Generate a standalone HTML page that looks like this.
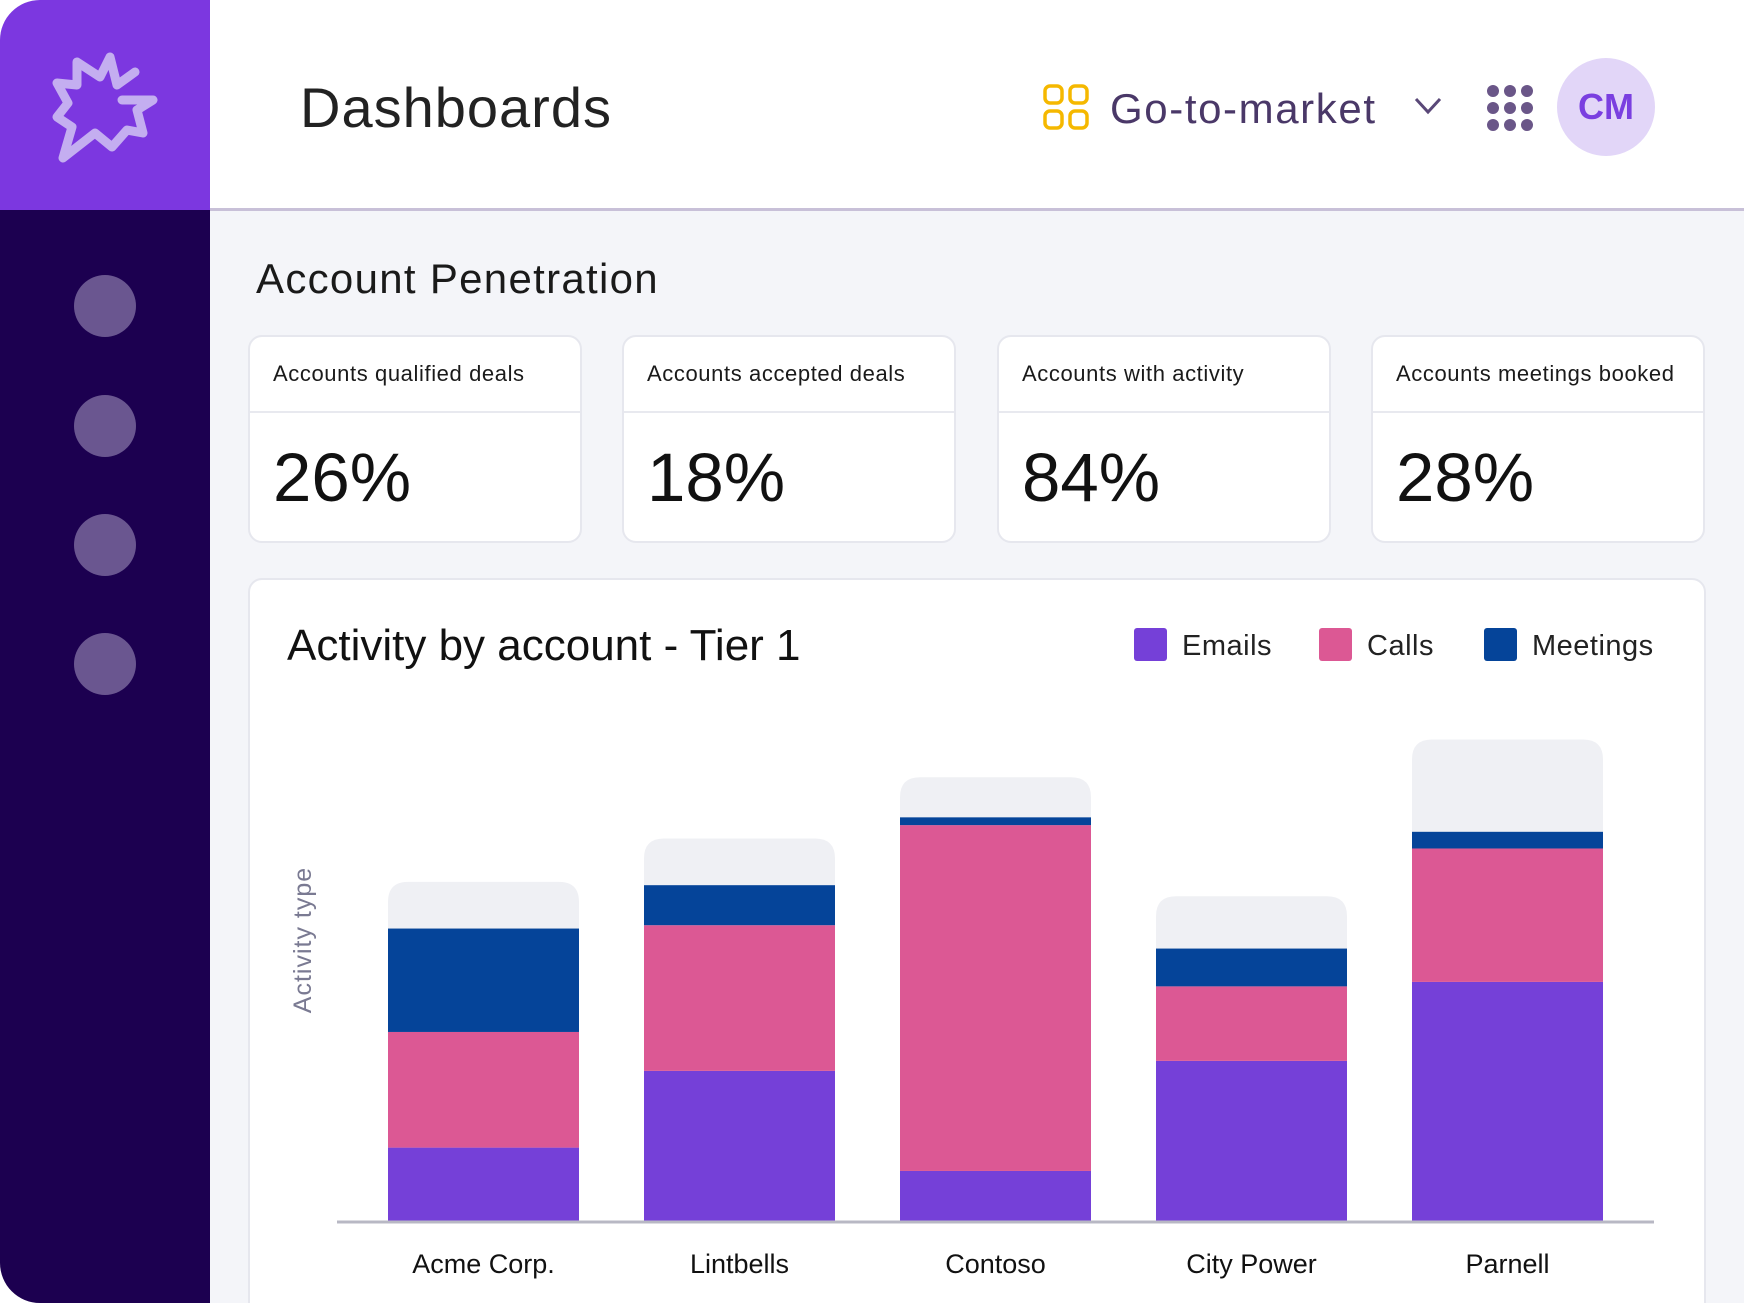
<!DOCTYPE html>
<html><head><meta charset="utf-8">
<style>
html,body{margin:0;padding:0;background:#fff;}
body{width:1744px;height:1303px;position:relative;overflow:hidden;font-family:"Liberation Sans",sans-serif;}
#frame{position:absolute;left:0;top:0;width:1744px;height:1303px;border-radius:40px 0 0 40px;overflow:hidden;background:#f4f5f9;}
#side-top{position:absolute;left:0;top:0;width:210px;height:210px;background:#7c37e0;}
#side{position:absolute;left:0;top:210px;width:210px;height:1093px;background:#1c0050;}
.dot{position:absolute;left:74px;width:62px;height:62px;border-radius:50%;background:#6a5690;}
#header{position:absolute;left:210px;top:0;width:1534px;height:208px;background:#fff;border-bottom:3px solid #c8c0d8;}
.card{position:absolute;top:335px;width:334px;height:208px;background:#fff;border:2px solid #e6e7ee;border-radius:14px;box-sizing:border-box;}
.card .lbl{height:74px;border-bottom:2px solid #e8e9ef;font-size:22px;letter-spacing:0.6px;color:#1a1a1a;padding-left:23px;line-height:74px;}
.card .val{font-size:69px;color:#111;padding-left:23px;line-height:130px;}
#chart-card{position:absolute;left:248px;top:578px;width:1458px;height:760px;background:#fff;border:2px solid #e6e7ee;border-radius:14px;box-sizing:border-box;}
</style></head><body>
<div id="frame">
 <div id="side-top">
  <svg width="210" height="210"><polyline points="135,72 117,85 110,57 100,77 77,62 77,85 57,83 68,103 57,117 72,127 63,158 95,133 112,147 127,130 143,133 137,110 153,100 122,100" fill="none" stroke="#c4aef0" stroke-width="9" stroke-linejoin="round" stroke-linecap="round"/></svg>
 </div>
 <div id="side"></div>
 <div class="dot" style="top:275px"></div>
 <div class="dot" style="top:395px"></div>
 <div class="dot" style="top:514px"></div>
 <div class="dot" style="top:633px"></div>
 <div id="header">
  <div style="position:absolute;left:90px;top:74px;font-size:56px;letter-spacing:1px;line-height:68px;color:#222;">Dashboards</div>
  <svg style="position:absolute;left:833px;top:84px" width="48" height="48">
   <rect x="2" y="2" width="17" height="17" rx="5" fill="none" stroke="#f5b800" stroke-width="3.5"/><rect x="27" y="2" width="17" height="17" rx="5" fill="none" stroke="#f5b800" stroke-width="3.5"/>
   <rect x="2" y="27" width="17" height="17" rx="5" fill="none" stroke="#f5b800" stroke-width="3.5"/><rect x="27" y="27" width="17" height="17" rx="5" fill="none" stroke="#f5b800" stroke-width="3.5"/></svg>
  <div style="position:absolute;left:900px;top:84px;font-size:42px;letter-spacing:1.6px;line-height:50px;color:#4a3868;">Go-to-market</div>
  <svg style="position:absolute;left:1203px;top:96px" width="30" height="20"><polyline points="3,3 15,16 27,3" fill="none" stroke="#5a4878" stroke-width="3"/></svg>
  <svg style="position:absolute;left:1276px;top:84px" width="48" height="48">
   <g fill="#6a5688"><circle cx="7" cy="7" r="6"/><circle cx="24" cy="7" r="6"/><circle cx="41" cy="7" r="6"/><circle cx="7" cy="24" r="6"/><circle cx="24" cy="24" r="6"/><circle cx="41" cy="24" r="6"/><circle cx="7" cy="41" r="6"/><circle cx="24" cy="41" r="6"/><circle cx="41" cy="41" r="6"/></g></svg>
  <div style="position:absolute;left:1347px;top:58px;width:98px;height:98px;border-radius:50%;background:#e2d6f8;color:#7a3fe0;font-size:36px;font-weight:bold;text-align:center;line-height:98px;">CM</div>
 </div>
 <div style="position:absolute;left:256px;top:254px;font-size:42px;letter-spacing:1.3px;line-height:50px;color:#1a1a1a;">Account Penetration</div>
 <div class="card" style="left:248px"><div class="lbl">Accounts qualified deals</div><div class="val">26%</div></div>
 <div class="card" style="left:622px"><div class="lbl">Accounts accepted deals</div><div class="val">18%</div></div>
 <div class="card" style="left:997px"><div class="lbl">Accounts with activity</div><div class="val">84%</div></div>
 <div class="card" style="left:1371px"><div class="lbl">Accounts meetings booked</div><div class="val">28%</div></div>
 <div id="chart-card"></div>
 <svg id="chart" style="position:absolute;left:0;top:0" width="1744" height="1303"></svg>
</div>
<script>
const categories=["Acme Corp.","Lintbells","Contoso","City Power","Parnell"];
const emails=[66,135,45,144,215];
const calls=[104,131,311,67,120];
const meetings=[93,36,7,34,15];
const remaining=[42,42,36,47,83];
const seriesNames=["Emails","Calls","Meetings"];
const NS="http://www.w3.org/2000/svg";
const svg=document.getElementById('chart');
const baseY=1221, pxPerUnit=1.112, x0=388, step=256, bw=191;
function yPos(v){return baseY-v*pxPerUnit;}
function xPos(i){return x0+i*step;}
function mk(tag,attrs){const e=document.createElementNS(NS,tag);for(const k in attrs)e.setAttribute(k,attrs[k]);svg.appendChild(e);return e;}
let t=mk('text',{x:287,y:660,'font-size':44,fill:'#111','font-family':'Liberation Sans, sans-serif'});t.textContent="Activity by account - Tier 1";


const legColors=["#7540d8","#dc5894","#054499"];
const legX=[1134,1319,1484];
seriesNames.forEach((n,i)=>{
 const r=mk('rect',{x:legX[i],y:628,width:33,height:33,rx:3,fill:legColors[i]});
 
 
 const tx=mk('text',{x:legX[i]+48,y:655,'font-size':29,'letter-spacing':0.5,fill:'#222','font-family':'Liberation Sans, sans-serif'});tx.textContent=n;
 
 
});
const at=mk('text',{x:0,y:0,'font-size':25,'letter-spacing':1,fill:'#7a7a92','text-anchor':'middle','font-family':'Liberation Sans, sans-serif',transform:'translate(311,940) rotate(-90)'});at.textContent="Activity type";


categories.forEach((c,i)=>{
 const x=xPos(i);
 let cum=0;
 const segs=[[emails[i],"#7540d8","emails"],[calls[i],"#dc5894","calls"],[meetings[i],"#054499","meetings"]];
 const total=emails[i]+calls[i]+meetings[i];
 const gTop=yPos(total+remaining[i]), gBot=yPos(total);
 const g=mk('path',{d:`M${x},${gBot} L${x},${gTop+20} Q${x},${gTop} ${x+20},${gTop} L${x+bw-20},${gTop} Q${x+bw},${gTop} ${x+bw},${gTop+20} L${x+bw},${gBot} Z`,fill:'#eff0f4'});
 
 
 segs.forEach(s=>{
  const r=mk('rect',{x:x,y:yPos(cum+s[0]),width:bw,height:s[0]*pxPerUnit,fill:s[1]});
  
  
  cum+=s[0];
 });
 const lb=mk('text',{x:x+bw/2,y:1273,'font-size':27,fill:'#111','text-anchor':'middle','font-family':'Liberation Sans, sans-serif'});lb.textContent=c;
 
 
});
const ax=mk('line',{x1:337,x2:1654,y1:baseY+1,y2:baseY+1,stroke:'#b8b8c4','stroke-width':3});


</script>
</body></html>
